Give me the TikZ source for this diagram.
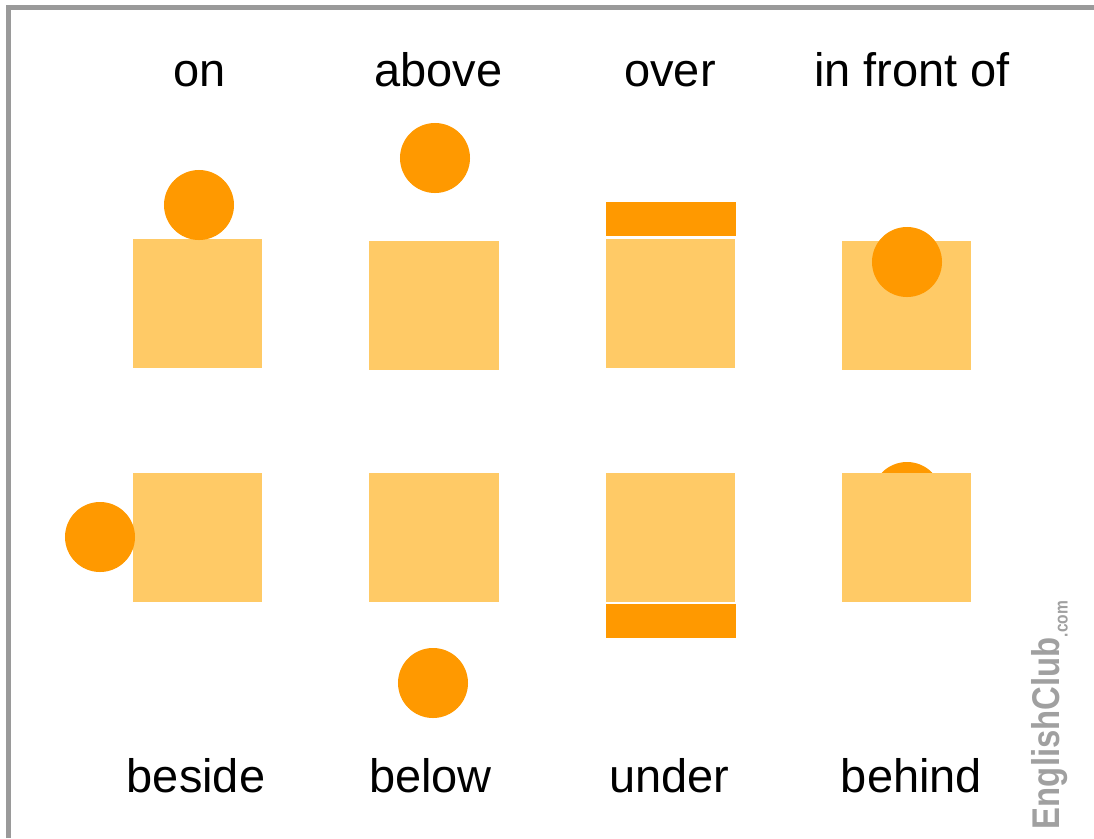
\documentclass[tikz,border=0pt]{standalone}
\usepackage{fontspec}
\setmainfont{Liberation Sans}
\usepackage{graphicx}
\definecolor{darkorange}{HTML}{FF9900}
\definecolor{lightorange}{HTML}{FFCA66}
\definecolor{framegray}{HTML}{9A9A9A}
\definecolor{logogray}{HTML}{A0A0A0}

\begin{document}
\begin{tikzpicture}[x=0.025cm,y=-0.025cm,
  box/.style={fill=lightorange, inner sep=0, minimum width=3.225cm, minimum height=3.225cm},
  ball/.style={circle, fill=darkorange, inner sep=0, minimum size=1.75cm},
  bar/.style={fill=darkorange, inner sep=0, minimum width=3.25cm, minimum height=0.85cm},
  word/.style={anchor=base, inner sep=0, font=\fontsize{33.4}{40}\selectfont},
  logo/.style={rotate=90, inner sep=0, text=logogray, font=\bfseries\fontsize{27.5}{30}\selectfont}]
\useasboundingbox (0,0) rectangle (1094,838);
\draw [framegray, line width=3.5pt] (8.5,838) -- (8.5,7.5) -- (1094,7.5);
% top row
\node [word] (on) at (199.5,86) {on};
\node [word] (above) at (438.5,86) {above};
\node [word] (over) at (670,86) {over};
\node [word] (front) at (912,86) {in front of};
\node [box] (onbox) at (197.5,303.5) {};
\node [ball] (onball) at (199,205) {};
\node [box] (abovebox) at (434,305.5) {};
\node [ball] (aboveball) at (435,158) {};
\node [box] (overbox) at (670.5,303.5) {};
\node [bar] (overbar) at (671,219) {};
\node [box] (frontbox) at (906.5,305.5) {};
\node [ball] (frontball) at (907,262) {};
% bottom row
\node [box] (besidebox) at (197.5,537.5) {};
\node [ball] (besideball) at (100,537) {};
\node [box] (belowbox) at (434,537.5) {};
\node [ball] (belowball) at (433,683) {};
\node [box] (underbox) at (670.5,537.5) {};
\node [bar] (underbar) at (671,621) {};
\node [ball] (behindball) at (907,497) {};
\node [box] (behindbox) at (906.5,537.5) {};
\node [word] (beside) at (196,792) {beside};
\node [word] (below) at (430.5,792) {below};
\node [word] (under) at (669.5,792) {under};
\node [word] (behind) at (911.5,792) {behind};
% logo
\node [logo] (club) at (1050,715) {\scalebox{0.85}[1]{EnglishClub}\raisebox{-0.2em}{\scalebox{0.85}[1]{\fontsize{13}{13}\selectfont.com}}};
\end{tikzpicture}
\end{document}
